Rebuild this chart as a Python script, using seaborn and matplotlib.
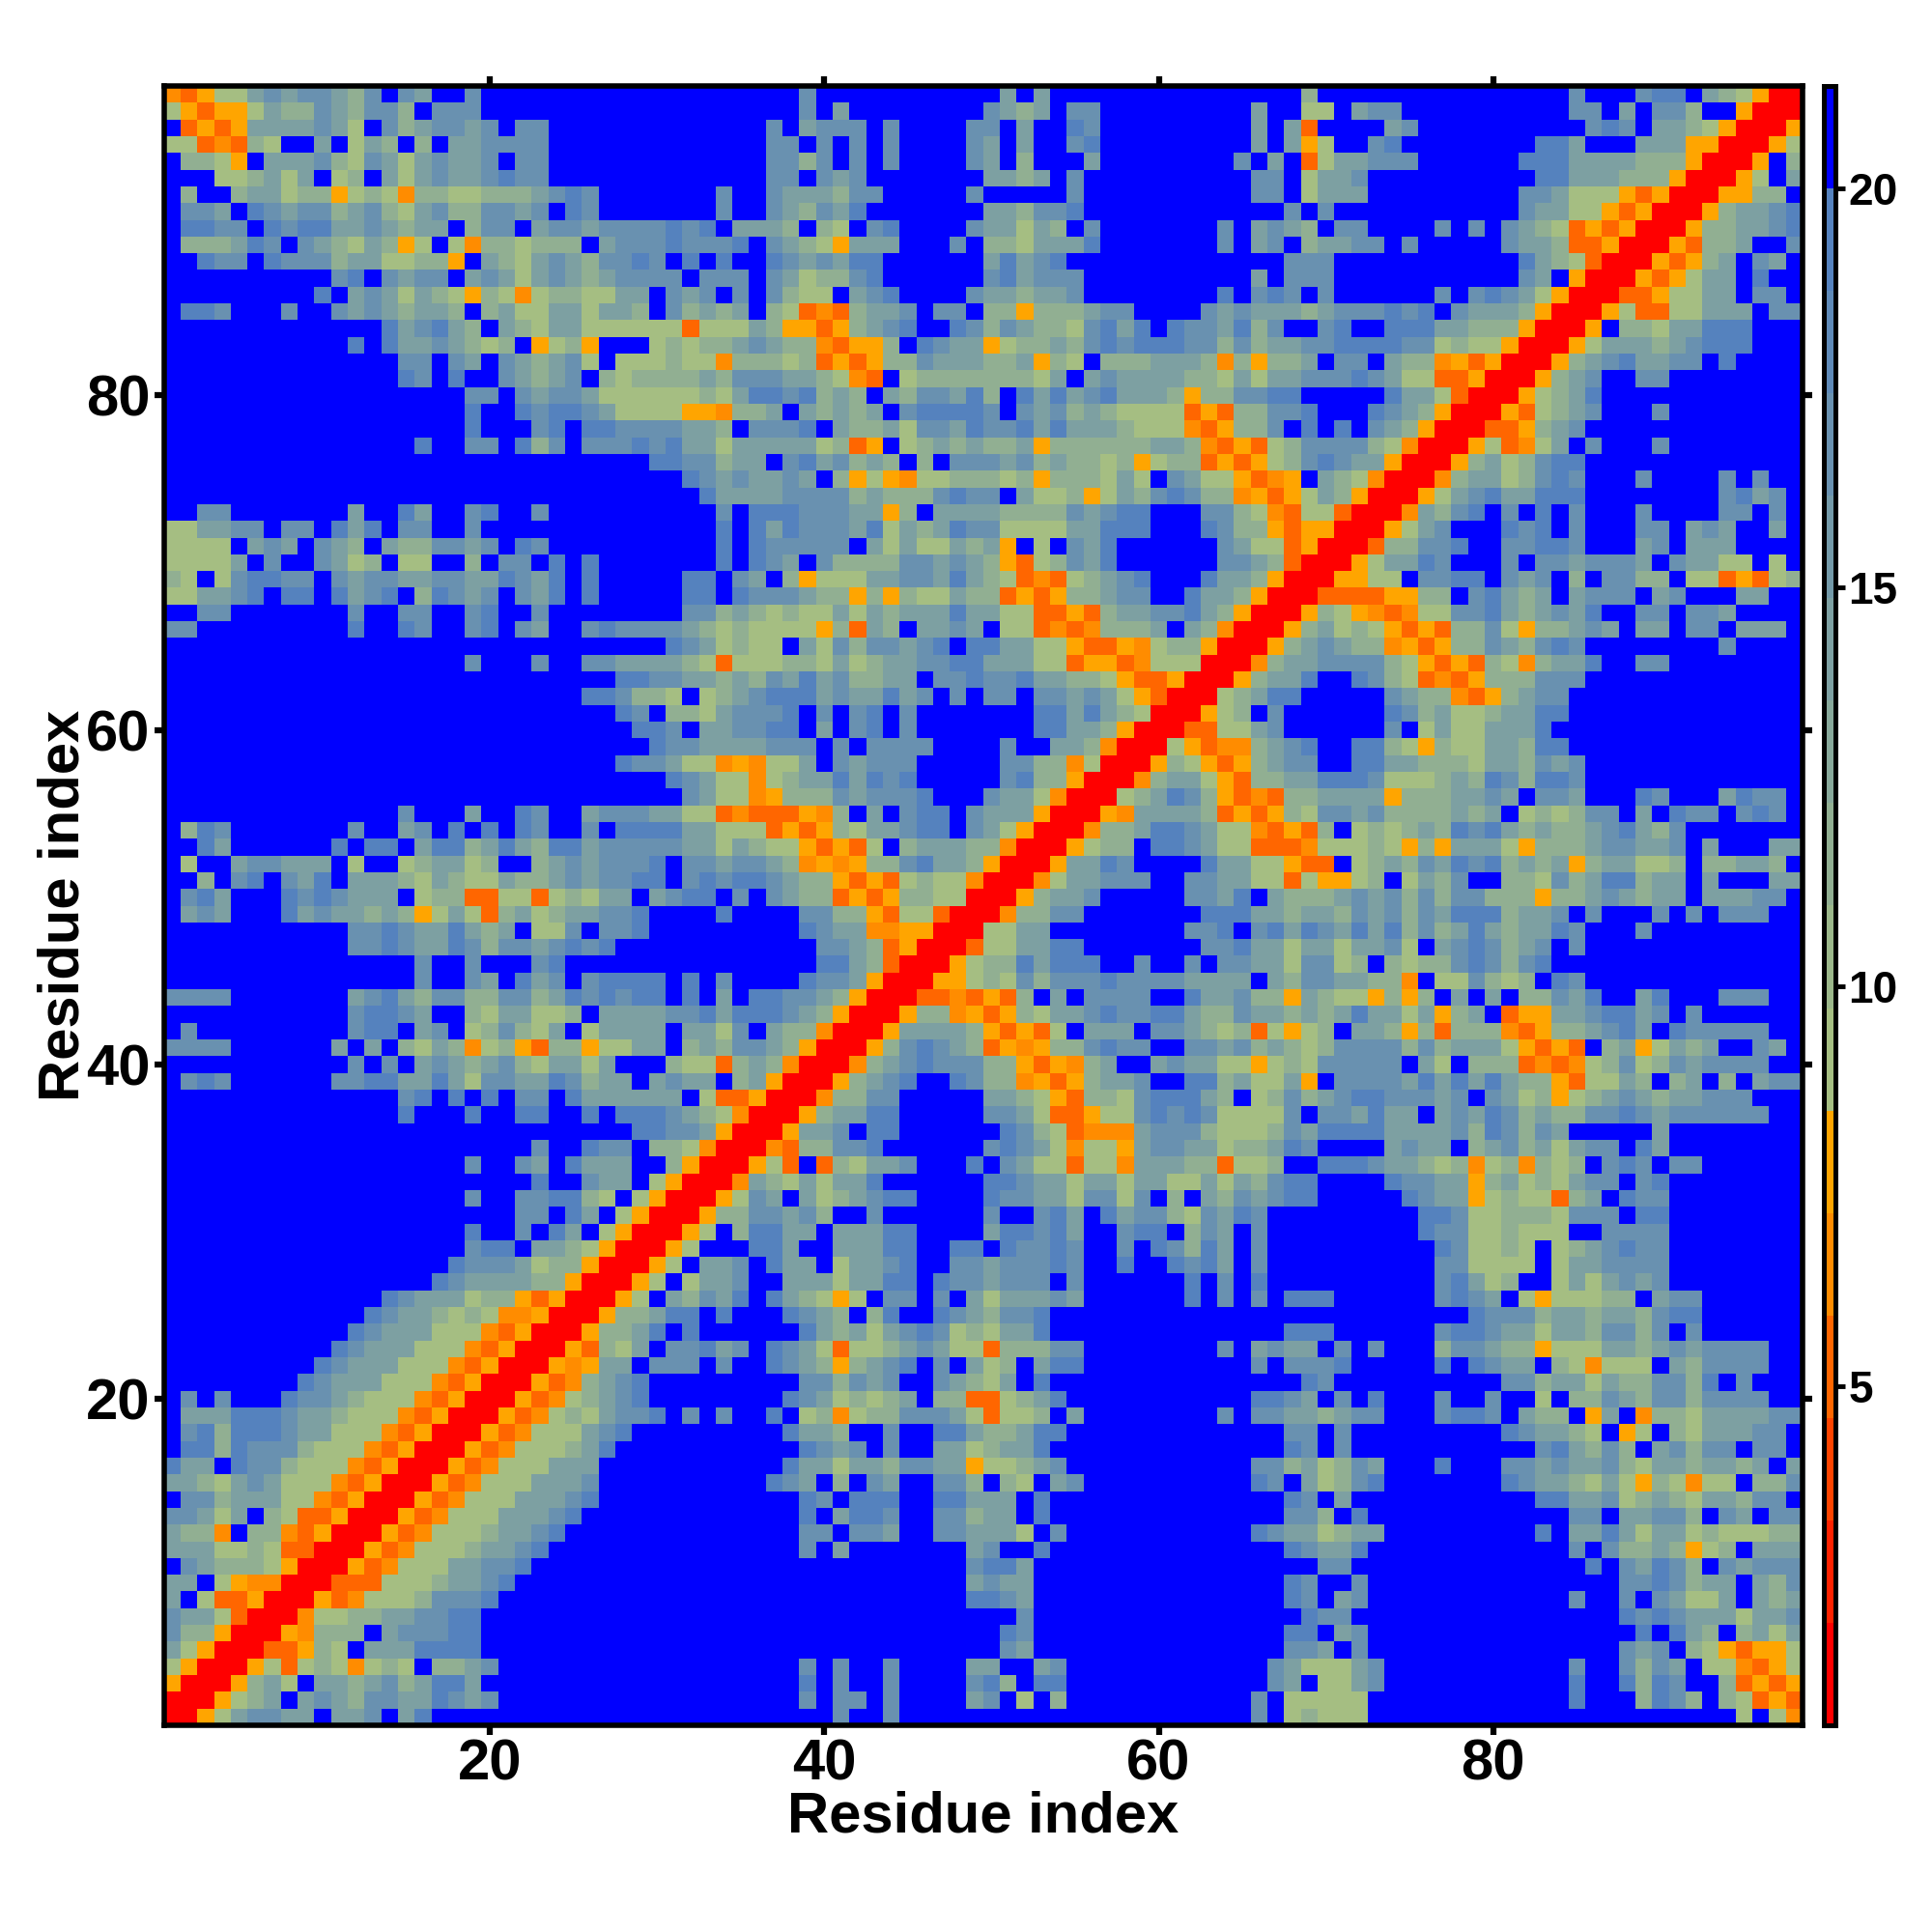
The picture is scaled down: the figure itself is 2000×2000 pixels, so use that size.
import re

import numpy as np
import pandas as pd
import matplotlib
matplotlib.use("Agg")
import matplotlib.pyplot as plt
import seaborn as sns
from matplotlib.colors import ListedColormap

# residue-residue distance map.
# one string per row from residue 98 down to residue 1, up to the diagonal, the
# rest is the mirror image. "18B" means 18 blue cells, spaces only split columns
# 1-33 / 34-66 / 67-98 so a miscount stays inside its block
rows = [
    "MHOaacdcddcbdBdcBBd14B 5Bd11BcBc13B 2Bb15Bd3BdeeBcbaORR",
    "aOHOOacbbdcbddbBddd 5BdBc8BdcbcBdd9Bc 2BaaBcdd10BddBcBddb2BORR",
    "BHOHOccccdcaBdbcddcdBdd 3BdBcdddBd4BddBcBBed9Bc BcH4Bcd10BdedBccbaORR",
    "aaHMHbaBBcBacbBbBccdddd 3BddBdBdBd4BdcBcBBde9Bc BcOaBBde8Beec3BcccOORR",
    "BbbaOBcccdbadcacdccdBdd 3BddbdBdBd4BdcBb3Bc8BdB cBHaccddd6BeeeccccbbbORR",
    "BBBaabcacBabBcacdccdedd 3BddBdcd7BccbcBd10Bd dBaccd10BeecccbbbORR",
    "BbBBbccabbOabaMbbaabbbcded7B dBBdcccbdd5Bd5Bd10Bd dBaccc9BddcaaaOHORR",
    "BddcBedcddbcdbacdbbddcdBed7B dBBdcbdce7Bccbdde11B BdBd11BdccaaOHORR",
    "BeeddBedeeccdcbccBbddBcddcddddede BcccbBbaBde4BdccacbBd7BdBc dcbBdd4BdBdBdcbaHOHORR",
    "BbbbcedBdcbacbOaBaMbbabbbBcdddedd deBdcbaOccc3BdBbbaccce7BdBc dBbccddBd5BdccbHHORR",
    "BBeddBedddbccaabbOBcbacdcbddedBeB eBBedcdcee6Bcecde12B Bddd11BecbaHRR",
    "10BdeBdcddBcdcacdcbcddddBd ddBdcabbde6Bdecddd10Bc Bddd11BdcBORR",
    "9BeBcdcacbaObaMabbaaccBdcd BdBdbaaBcde4Bdccbccd8BeBd edBd6BdBdedcaORR",
    "BeedBBBdBBdcdcbccbBbcaaccaccbBdbc bcBbaHMHbccdBddBbbObbbcdd4Bdcdc ccbcdddedeBdcccbORR",
    "13BecdecbBcbaccaaaaaaHa aacbOOHObcdeBBedbdcbbadeceBeddceb dBBdeBBeeeccbbbORR",
    "11BeBeccdcbabBOabO3Babab bcdcbbMHOObBedccOabbcbdedeeeddbdb ccddeeeeddabaaORR",
    "14BddBdcBdcbcdaBaaabaa MbbbabHOHObbdcccbbcObaBbbbcccbMbO bbcBddBcbbMOHORR",
    "14BedBeBBdcbcdBbabbbbc bdddccbaMHBabbbbbbbacBcdccccbbaca ccdddedcaaHHORR",
    "18BddBdcddcaaaaaab aceedebcbBcbddcebBececdecccbObbdd ee5BeccaHRR",
    "18BeBBedeedcaaaaOO MbbcBcbcbcBdeeeedBdcdbcbaaaaHOHbb ddeBBBedcbORR",
    "18Be3BdeBeeddddcc bBdddeBcbbcaddceddececccbaaaMHObb dBeBeBdcbORR",
    "15BeBBddBebdBdddedecc acccccabHOBabcbcbbcObbbbbbccbMHOH abddddbaMRR",
    "29Beedd bccBdecdbcbBbBdddcdbcbbabOabbHOHO abdedccORR",
    "31Bed cdccdcBbOaOMaabbbabObbbacaBdcaaOH MOBcbaMRR",
    "32Be ccccddddbcbbbdeddBcaabOacbdedbbMO HOacbORR",
    "BBdd7BcBBecBBdeBBd10B dBeeedddccObBccccbbbbdcdeeBBBddba MHaaHRR",
    "aaccddBddBeceBddBBd14B eBecedddceacbceddaaaacceeeBBBedbb OHOORR",
    "aaaaBcdcBdcbBcbbddcdBed10B eBedddddBcacaacbcOBaBdce6Bdca aHORR",
    "aaaacBdBBdcabBaaBBbBddBeBe7B eBedcBdbbbbddcdcbOHabdce6Bddc bHRR",
    "baBadeeddBdcddccddccedceBe5Bee BdcBbOaaaccddcecbaHMHabcdeBBBeccb ORR",
    "aaccdeBeeBecdeBbedcdBdceBe5Bee BedddcbbObObaacbbHOHObbcddBBeccbO RR",
    "BBdd7BdBBddBBdeBBd8Bdd bcbabaacacbccceccaaHHOHbccddecbOR R",
    "dd9BeBBedBBdeBdcBBdeddddcb abaaaaObHcbBccdcBaaHMHMbbbcBcbMRR",
    "30Bedc abaaBcadbddcdeBeeccaaOHHOMabbORR",
    "18Bd3Bd2Bddccccba HaaabbacabccddeecccaaHOOHMaaaRR",
    "27Beeddcc bcbdcecdbbccBddeddeccbbaOHHORR",
    "25BeedbbaBa bcdeeecdccecdBdBddBddcdcaOHRR",
    "27BedBbba cdddeBdBdeBd7BeececbaRR",
    "28BeedBc cddeeBcBdeBd7BeeccbORR",
    "29Beddc cccdddBdBdddd4BdBBccbMRR",
    "27Beddcaa MOMaacBdcddd5BddbbMaRR",
    "30Bedc aaMabccecede5BdebbORR",
    "31Bdc aaMObbbdcddde3BdccaMRR",
    "14Bd3Bc2Bed2Bcdddccaa HMHHHOMbBcBdeeBdcccORR",
    "Bbed7BdBBcdBeBeBedBBdBeeeecc aaaHOHObaccdeeBdcaORR",
    "BBec6BeBeeBceebcecbeecdddddcc acbaaOHOHaBbcccbbMRR",
    "BaBBcddcccBaBBabccabBBbcdcdddeBdd cddcbMOMObbdeccbORR",
    "BBbBdeBdceBcccbacbaacbbcdcddeeBde deedcbbOHOHabaaMRR",
    "BdecBBBededcccBabbHHaaHabaccBcdee BdBdcbbHOHObbaaRR",
    "BcdcBBBecdccbcbOacaHbcabccdde4B e4BddbbOHaaHRR",
    "11BddedccecbcBaadBdde4B 5BedccMMOORR",
    "11Bddedccedbddcdede6B 6BddcbHORR",
    "15BdBBd3Bde 6BeecbHRR",
    "15BdBBdcBecdBdeeeeBeB d4BeddcORR",
    "dddd7BcdecbddbbddbcededeeBeB cBeeddcbORR",
    "11BdeedcBBbaccaabBccccdde ceeedcbORR",
    "Bd9BdeeBcdBabdbacBaccccBcc adBcbbMRR",
    "dddd6BcBcBbacbMabOHbbOaaccBbc bddcbORR",
    "11BdBdBcdcbcdbaccacBBBbaa HbcbMRR",
    "Bded6BddeeccecaddccedbccBcdcc BbcORR",
    "14BdeBeBeBddBeccccccBa HHORR",
    "14Be3Be2Bee2BeBeeedcb aMRR",
    "28Beeddc ORR",
    "22Bd2BeddBbbaM RR",
    "18Bd2BdcBeccc2BbOR R",
    "22Be2BdccBaORR",
    "18Bd2BddeebaBaORR",
    "21BddBecBaORR",
    "18Be2BdBecBaORR",
    "18BdeeBccbaORR",
    "17BedddcabbORR",
    "16BedccccbbORR",
    "13BedcccabbOHORR",
    "12BedccbabaMMORR",
    "11BedcccaaaMHORR",
    "10BedcccaaaMHORR",
    "9BedcccaaaMHORR",
    "8BedcccaaaMHORR",
    "BdBd3BeddcbaaaMHORR",
    "BccceeedccbaaaMHORR",
    "BdebeeedccaaaMHORR",
    "BeebedddbaaaMHORR",
    "eccBeddbaaaMHORR",
    "ccbacdcaaaMHORR",
    "BddbcccaaMHORR",
    "ddcacBbaHHORR",
    "cbbMBbbMHORR",
    "cccaabaHHRR",
    "BdcbbbaORR",
    "ccBaOMMRR",
    "cBaHHORR",
    "dccaHRR",
    "dbbORR",
    "caORR",
    "aORR",
    "ORR",
    "RR",
    "R",
]

# distance for each letter (middle of its colour band)
distance = {"R": 1.4, "H": 5.2, "M": 6.5, "O": 7.8,
            "a": 9.1, "b": 11.6, "c": 14.2, "d": 16.7, "e": 19.3, "B": 20.6}

band_colors = ["#FF0000", "#FF2200", "#FF4400", "#FF6600", "#FF8C00", "#FFA500",
               "#A5BE82", "#9BB78A", "#91AF92", "#87A89A", "#7DA0A2",
               "#7399A8", "#6991B0", "#5F8AB8", "#5582BE", "#0000FF"]
dist_min, dist_max = 0.75, 21.28

residue_ticks = [20, 40, 60, 80]
bar_ticks = [5, 10, 15, 20]
n = 98

# 1. unpack the rows into a symmetric matrix
blocks = [33, 33, 32]
matrix = np.full((n, n), distance["B"])
for t, row in enumerate(rows):
    parts = [re.sub(r"(\d+)B", lambda m: "B" * int(m.group(1)), p) for p in row.split(" ")]
    parts += [""] * (3 - len(parts))
    text = "".join(p.ljust(w, "B")[:w] for p, w in zip(parts, blocks))
    for c in range(n - t):
        matrix[t, c] = distance[text[c]]
        matrix[n - 1 - c, n - 1 - t] = distance[text[c]]

df = pd.DataFrame(matrix, index=range(n, 0, -1), columns=range(1, n + 1))

# 2. draw
sns.set_theme(style="white")
plt.rcParams["font.family"] = ["Liberation Sans", "DejaVu Sans"]
plt.rcParams["font.weight"] = "bold"
plt.rcParams["text.color"] = "black"
plt.rcParams["axes.labelcolor"] = "black"
plt.rcParams["xtick.color"] = "black"
plt.rcParams["ytick.color"] = "black"

fig = plt.figure(figsize=(20, 20), dpi=100)
ax = fig.add_axes([0.0848, 0.107, 0.8482, 0.8485])
cax = fig.add_axes([0.9442, 0.107, 0.0056, 0.8485])

sns.heatmap(df, ax=ax, cbar_ax=cax, cmap=ListedColormap(band_colors),
            vmin=dist_min, vmax=dist_max, xticklabels=False, yticklabels=False)

ax.set_xticks([v - 0.5 for v in residue_ticks])
ax.set_xticklabels(residue_ticks)
ax.set_yticks([n + 0.5 - v for v in residue_ticks])
ax.set_yticklabels(residue_ticks)
ax.tick_params(top=True, right=True, bottom=True, left=True, length=7, width=4.5,
               color="black", direction="out", labelsize=43, pad=3)
ax.set_xlabel("Residue index", fontsize=43, fontweight="bold", labelpad=-1)
ax.set_ylabel("Residue index", fontsize=43, fontweight="bold", labelpad=-3)
for spine in ax.spines.values():
    spine.set_visible(True)
    spine.set_linewidth(4)
    spine.set_color("black")

cbar = ax.collections[0].colorbar
cbar.set_ticks(bar_ticks)
cbar.ax.tick_params(length=7, width=3.5, color="black", labelsize=33, pad=3)
cbar.outline.set_visible(True)
cbar.outline.set_linewidth(3.6)
cbar.outline.set_edgecolor("black")

fig.savefig("out.png", dpi=100)
plt.close(fig)
